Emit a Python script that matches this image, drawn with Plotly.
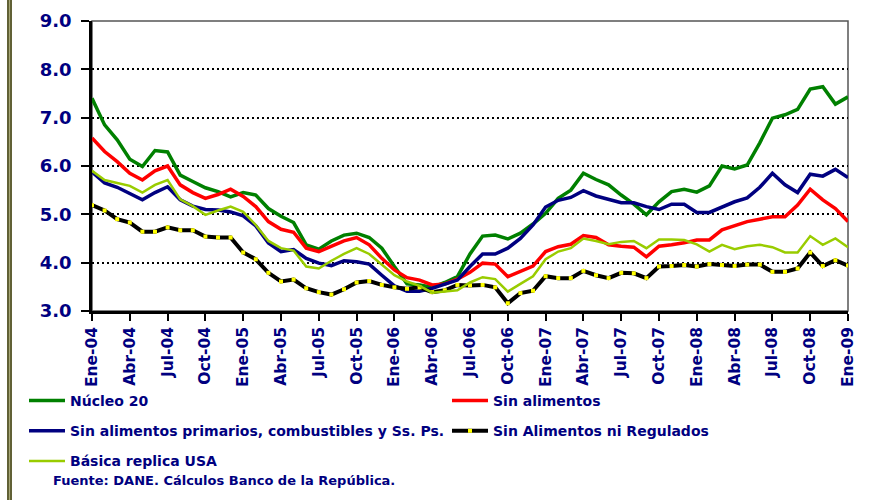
import plotly.graph_objects as go

# ---- data ----
month_abbr = ["Ene", "Feb", "Mar", "Abr", "May", "Jun", "Jul", "Ago", "Sep", "Oct", "Nov", "Dic"]
years = ["04", "05", "06", "07", "08", "09"]
months = [f"{m}-{y}" for y in years for m in month_abbr][:61]  # Ene-04 .. Ene-09

tick_labels = ["Ene-04", "Abr-04", "Jul-04", "Oct-04", "Ene-05", "Abr-05", "Jul-05", "Oct-05",
               "Ene-06", "Abr-06", "Jul-06", "Oct-06", "Ene-07", "Abr-07", "Jul-07", "Oct-07",
               "Ene-08", "Abr-08", "Jul-08", "Oct-08", "Ene-09"]

nucleo20 = [7.40, 6.85, 6.54, 6.14, 5.99, 6.32, 6.29, 5.81, 5.68, 5.55, 5.47, 5.36, 5.45, 5.40, 5.12,
            4.96, 4.83, 4.37, 4.28, 4.45, 4.57, 4.61, 4.52, 4.30, 3.92, 3.56, 3.54, 3.49, 3.59, 3.71,
            4.18, 4.55, 4.57, 4.49, 4.61, 4.80, 5.02, 5.33, 5.50, 5.85, 5.72, 5.61, 5.40, 5.21, 4.99,
            5.26, 5.47, 5.52, 5.46, 5.59, 6.00, 5.94, 6.02, 6.48, 6.99, 7.06, 7.17, 7.59, 7.64, 7.28, 7.43]

sin_alimentos = [6.58, 6.30, 6.09, 5.85, 5.71, 5.90, 6.00, 5.61, 5.45, 5.33, 5.41, 5.52, 5.37, 5.16, 4.85,
                 4.69, 4.63, 4.30, 4.23, 4.34, 4.45, 4.52, 4.37, 4.09, 3.85, 3.69, 3.64, 3.54, 3.56, 3.66,
                 3.80, 3.99, 3.97, 3.71, 3.82, 3.93, 4.23, 4.33, 4.38, 4.56, 4.52, 4.37, 4.34, 4.32, 4.12,
                 4.34, 4.37, 4.41, 4.47, 4.47, 4.68, 4.76, 4.85, 4.90, 4.95, 4.95, 5.19, 5.52, 5.30, 5.12, 4.85]

sin_prim_comb_sp = [5.88, 5.65, 5.56, 5.43, 5.30, 5.45, 5.57, 5.30, 5.17, 5.10, 5.09, 5.05, 4.97, 4.76, 4.41,
                    4.23, 4.27, 4.09, 3.99, 3.94, 4.04, 4.02, 3.97, 3.74, 3.52, 3.41, 3.41, 3.47, 3.56, 3.64,
                    3.92, 4.18, 4.18, 4.30, 4.50, 4.78, 5.15, 5.29, 5.35, 5.49, 5.38, 5.31, 5.24, 5.24, 5.16,
                    5.10, 5.21, 5.21, 5.04, 5.04, 5.15, 5.26, 5.34, 5.56, 5.85, 5.61, 5.45, 5.83, 5.79, 5.93, 5.76]

sin_alim_ni_reg = [5.19, 5.08, 4.90, 4.83, 4.64, 4.64, 4.73, 4.67, 4.67, 4.54, 4.52, 4.52, 4.21, 4.07, 3.79,
                   3.61, 3.65, 3.47, 3.39, 3.34, 3.45, 3.59, 3.62, 3.54, 3.49, 3.46, 3.49, 3.39, 3.43, 3.54,
                   3.53, 3.54, 3.49, 3.16, 3.37, 3.42, 3.72, 3.68, 3.68, 3.83, 3.74, 3.68, 3.79, 3.78, 3.68,
                   3.92, 3.93, 3.95, 3.92, 3.97, 3.95, 3.93, 3.96, 3.96, 3.81, 3.81, 3.88, 4.21, 3.93, 4.05, 3.94]

basica_usa = [5.90, 5.71, 5.65, 5.59, 5.45, 5.61, 5.71, 5.31, 5.17, 4.99, 5.08, 5.16, 5.05, 4.78, 4.45,
              4.30, 4.25, 3.92, 3.88, 4.04, 4.18, 4.30, 4.18, 3.97, 3.74, 3.61, 3.52, 3.38, 3.40, 3.43,
              3.59, 3.70, 3.66, 3.40, 3.56, 3.72, 4.07, 4.23, 4.30, 4.50, 4.45, 4.38, 4.43, 4.45, 4.30,
              4.48, 4.48, 4.47, 4.38, 4.23, 4.37, 4.28, 4.34, 4.37, 4.32, 4.21, 4.21, 4.55, 4.37, 4.50, 4.32]

y_ticks = [3, 4, 5, 6, 7, 8, 9]

NAVY = "#000080"
FONT = "DejaVu Sans"

fig = go.Figure()

series = [
    ("Núcleo 20", nucleo20, "#008000", 3.5),
    ("Sin alimentos", sin_alimentos, "#FF0000", 3.5),
    ("Sin alimentos primarios, combustibles y Ss. Ps.", sin_prim_comb_sp, "#000080", 3.5),
    ("Sin Alimentos ni Regulados", sin_alim_ni_reg, "#000000", 4),
    ("Básica replica USA", basica_usa, "#99CC00", 2.5),
]

for i, (name, vals, color, w) in enumerate(series):
    if name == "Sin Alimentos ni Regulados":
        kw = dict(mode="lines+markers",
                  marker=dict(symbol="square", size=4, color="#FFFF00", line=dict(width=0)))
    else:
        kw = dict(mode="lines")
    fig.add_trace(go.Scatter(x=months, y=vals, name=name, line=dict(color=color, width=w),
                             legendgroup=f"g{i}", **kw))

W, H = 876, 500
L, R, T, B = 92, 28, 21, 189
pw, ph = W - L - R, H - T - B


def px2x(px):
    return (px - L) / pw


def px2y(py):
    return (H - B - py) / ph


shapes = [
    # plot frame (top/right)
    dict(type="rect", xref="paper", yref="paper", x0=0, x1=1, y0=0, y1=1,
         line=dict(color="#555555", width=1.5), layer="below"),
    # left decorative frame of the slide
    dict(type="rect", xref="paper", yref="paper", x0=px2x(7), x1=px2x(12), y0=px2y(500), y1=px2y(0),
         fillcolor="#a8a878", line=dict(width=0)),
    dict(type="line", xref="paper", yref="paper", x0=px2x(8), x1=px2x(8), y0=px2y(500), y1=px2y(0),
         line=dict(color="#4a4a20", width=1.5)),
    dict(type="line", xref="paper", yref="paper", x0=px2x(11), x1=px2x(11), y0=px2y(500), y1=px2y(0),
         line=dict(color="#4a4a20", width=1.5)),
]

fig.update_layout(
    width=W, height=H,
    margin=dict(l=L, r=R, t=T, b=B, autoexpand=False),
    paper_bgcolor="white", plot_bgcolor="white",
    font=dict(family=FONT, color=NAVY),
    shapes=shapes,
    showlegend=True,
    legend=dict(
        orientation="h", traceorder="grouped", tracegroupgap=9,
        entrywidth=372, itemwidth=36,
        x=px2x(24), xanchor="left", y=px2y(385), yanchor="top",
        font=dict(family=FONT, size=14, color=NAVY, weight="bold"),
        bgcolor="rgba(0,0,0,0)",
    ),
    annotations=[dict(
        text="Fuente: DANE. Cálculos Banco de la República.",
        xref="paper", yref="paper", x=px2x(51), y=px2y(480), xanchor="left", yanchor="middle",
        showarrow=False, font=dict(family=FONT, size=13, color=NAVY, weight="bold"),
    )],
)

fig.update_xaxes(
    type="category", range=[0, 60],
    tickmode="array", tickvals=tick_labels, ticktext=tick_labels,
    tickangle=-90, tickfont=dict(family=FONT, size=15.5, color=NAVY, weight="bold"),
    ticks="outside", ticklen=7, tickwidth=1.5, tickcolor="black",
    showline=True, linecolor="black", linewidth=2.5,
    showgrid=False, zeroline=False,
)

fig.update_yaxes(
    range=[3, 9], tickmode="array", tickvals=y_ticks, tickformat=".1f",
    tickfont=dict(family=FONT, size=18, color=NAVY, weight="bold"),
    ticks="outside", ticklen=8, tickwidth=1.5, tickcolor="black",
    showline=True, linecolor="black", linewidth=2.5,
    showgrid=True, gridcolor="black", gridwidth=2, griddash="2px,3px",
    zeroline=False, ticklabelstandoff=6,
)

fig.write_html("out.html", config={"displayModeBar": False},
               post_script="document.body.style.margin='0';")
